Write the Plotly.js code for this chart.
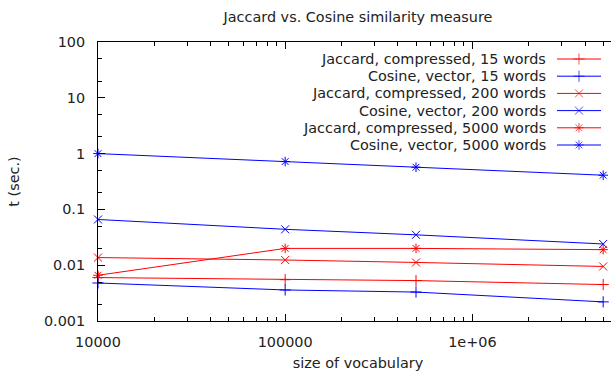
<!DOCTYPE html>
<html>
<head>
<meta charset="utf-8">
<script src="https://cdn.plot.ly/plotly-3.0.1.min.js"></script>
<style>
html,body{margin:0;padding:0;overflow:hidden;background:#fff;width:611px;height:371px;}
#chart{width:620px;height:371px;}
</style>
</head>
<body>
<div id="chart"></div>
<script>
// ---- data ----
const vocabSizes = [10000, 100000, 500000, 5000000];
const seriesNames = [
  "Jaccard, compressed, 15 words",
  "Cosine, vector, 15 words",
  "Jaccard, compressed, 200 words",
  "Cosine, vector, 200 words",
  "Jaccard, compressed, 5000 words",
  "Cosine, vector, 5000 words"
];
const jaccard15   = [0.0060, 0.0055, 0.0053, 0.0045];
const cosine15    = [0.0048, 0.0036, 0.0033, 0.0022];
const jaccard200  = [0.0137, 0.0124, 0.0112, 0.0095];
const cosine200   = [0.066, 0.044, 0.035, 0.024];
const jaccard5000 = [0.0066, 0.020, 0.020, 0.019];
const cosine5000  = [1.0, 0.72, 0.57, 0.41];
const xTickVals = [10000, 100000, 1000000];
const xTickText = ["10000", "100000", "1e+06"];
const yTickVals = [0.001, 0.01, 0.1, 1, 10, 100];
const yTickText = ["0.001", "0.01", "0.1", "1", "10", "100"];

// ---- styles ----
const RED = "#ff0000", BLUE = "#0000ff";
const FONT = "DejaVu Sans";
const FS = 14.4;
const MS = 8;
const styles = [
  {color: RED,  symbol: "cross-thin-open"},
  {color: BLUE, symbol: "cross-thin-open"},
  {color: RED,  symbol: "x-thin-open"},
  {color: BLUE, symbol: "x-thin-open"},
  {color: RED,  symbol: "asterisk-open"},
  {color: BLUE, symbol: "asterisk-open"}
];
const allSeries = [jaccard15, cosine15, jaccard200, cosine200, jaccard5000, cosine5000];

const L = 98, R = 618, T = 42, B = 321;
const traces = allSeries.map((ys, i) => ({
  type: "scatter", mode: "lines+markers",
  x: vocabSizes, y: ys, name: seriesNames[i], showlegend: false,
  line: {color: styles[i].color, width: 1},
  marker: {symbol: styles[i].symbol, size: MS, color: styles[i].color,
           line: {color: styles[i].color, width: 1}},
  cliponaxis: false
}));

// custom legend (gnuplot style: text right, sample on the right)
const legTop = 59, legStep = 17.2;
const annotations = [];
seriesNames.forEach((name, i) => {
  const yy = legTop + i * legStep;
  traces.push({
    type: "scatter", mode: "lines+markers", xaxis: "x2", yaxis: "y2",
    x: [557, 579, 601], y: [yy, yy, yy], showlegend: false, hoverinfo: "skip",
    line: {color: styles[i].color, width: 1},
    marker: {symbol: styles[i].symbol, size: [0, MS, 0], color: styles[i].color,
             line: {color: styles[i].color, width: 1}},
    cliponaxis: false
  });
  annotations.push({
    xref: "x2", yref: "y2", x: 548, y: yy, xanchor: "right", yanchor: "middle",
    text: name, showarrow: false, font: {family: FONT, size: FS, color: "#222"}
  });
});

const axisCommon = {
  type: "log", showgrid: false, zeroline: false, showline: true,
  linecolor: "#000", linewidth: 1, mirror: "ticks",
  ticks: "inside", ticklen: 7, tickcolor: "#000", tickwidth: 1,
  tickfont: {family: FONT, size: FS, color: "#222"}
};

const layout = {
  width: 620, height: 371,
  margin: {l: L, r: 620 - R, t: T, b: 371 - B},
  paper_bgcolor: "#fff", plot_bgcolor: "#fff",
  showlegend: false,
  title: {text: "Jaccard vs. Cosine similarity measure", x: 358 / 620, xanchor: "center",
          y: 1 - 17 / 371, yanchor: "middle", font: {family: FONT, size: FS, color: "#222"}},
  xaxis: Object.assign({}, axisCommon, {
    range: [4, Math.log10(6e6)],
    tickvals: xTickVals, ticktext: xTickText, ticklabelstandoff: 8,
    minor: {ticks: "inside", ticklen: 4, tickcolor: "#000", dtick: "D1", showgrid: false},
    title: {text: "size of vocabulary", standoff: 8, font: {family: FONT, size: FS, color: "#222"}}
  }),
  yaxis: Object.assign({}, axisCommon, {
    range: [-3, 2],
    tickvals: yTickVals, ticktext: yTickText, ticklabelstandoff: 9,
    minor: {ticks: "inside", ticklen: 4, tickcolor: "#000", dtick: "D2", showgrid: false},
    title: {text: "t (sec.)", standoff: 20, font: {family: FONT, size: FS, color: "#222"}}
  }),
  xaxis2: {overlaying: "x", range: [L, R], visible: false, fixedrange: true},
  yaxis2: {overlaying: "y", range: [B, T], visible: false, fixedrange: true},
  annotations: annotations
};

Plotly.newPlot("chart", traces, layout, {displayModeBar: false, staticPlot: true});
</script>
</body>
</html>
